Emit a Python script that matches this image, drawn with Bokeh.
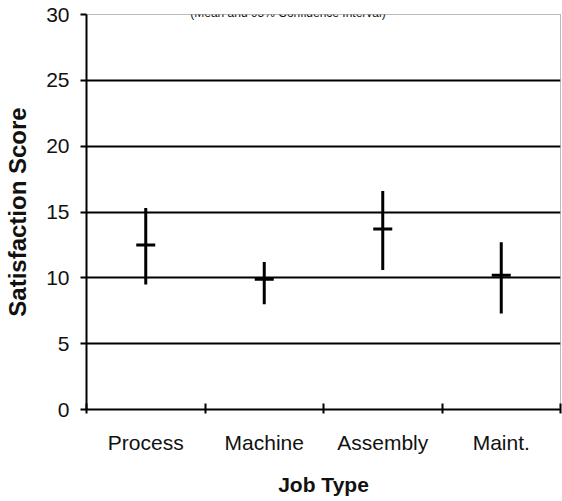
from bokeh.plotting import figure
from bokeh.models import FixedTicker, Range1d, Label, ColumnDataSource
from bokeh.embed import file_html
from bokeh.resources import INLINE

# ---- data ----
categories = ["Process", "Machine", "Assembly", "Maint."]
means = [12.5, 9.9, 13.7, 10.2]
ci_low = [9.5, 8.0, 10.6, 7.3]
ci_high = [15.3, 11.2, 16.6, 12.7]
y_ticks = [0, 5, 10, 15, 20, 25, 30]
title_text = "(Mean and 95% Confidence Interval)"
x_title = "Job Type"
y_title = "Satisfaction Score"

FONT = "Liberation Sans"

xpos = [i + 0.5 for i in range(len(categories))]
src = ColumnDataSource(dict(x=xpos, mean=means, lo=ci_low, hi=ci_high, cat=categories))

p = figure(width=562, height=501, output_backend="svg", toolbar_location=None,
           x_range=Range1d(0, len(categories)), y_range=Range1d(y_ticks[0], y_ticks[-1]),
           min_border_left=86, min_border_right=2, min_border_top=14, min_border_bottom=92)
p.background_fill_color = "white"
p.border_fill_color = "white"
p.outline_line_color = "#777777"
p.outline_line_width = 1
p.outline_line_dash = "1 1"

# grid
p.xgrid.visible = False
p.ygrid.ticker = FixedTicker(ticks=y_ticks[1:-1])
p.ygrid.grid_line_color = "black"
p.ygrid.grid_line_width = 2

# y axis
ya = p.yaxis[0]
ya.ticker = FixedTicker(ticks=y_ticks)
ya.axis_line_color = "black"
ya.axis_line_width = 2
ya.major_tick_out = 6
ya.major_tick_in = 0
ya.major_tick_line_width = 2
ya.minor_tick_line_color = None
ya.major_label_standoff = 11
ya.major_label_text_font = FONT
ya.major_label_text_font_size = "21px"
ya.major_label_text_color = "#111111"
ya.axis_label = y_title
ya.axis_label_text_font = FONT
ya.axis_label_text_font_style = "bold"
ya.axis_label_text_font_size = "24px"
ya.axis_label_text_color = "#111111"
ya.axis_label_standoff = 12

# x axis
xa = p.xaxis[0]
xa.ticker = FixedTicker(ticks=xpos, minor_ticks=list(range(len(categories) + 1)))
xa.major_label_overrides = {x: c for x, c in zip(xpos, categories)}
xa.axis_line_color = "black"
xa.axis_line_width = 2
xa.major_tick_line_color = None
xa.major_tick_out = 0
xa.major_tick_in = 0
xa.minor_tick_line_color = "black"
xa.minor_tick_line_width = 2
xa.minor_tick_out = 4
xa.minor_tick_in = 6
xa.major_label_standoff = 17
xa.major_label_text_font = FONT
xa.major_label_text_font_size = "21px"
xa.major_label_text_color = "#111111"
xa.axis_label = x_title
xa.axis_label_text_font = FONT
xa.axis_label_text_font_style = "bold"
xa.axis_label_text_font_size = "21px"
xa.axis_label_text_color = "#111111"
xa.axis_label_standoff = 16

# CI bars and means
p.segment(x0="x", x1="x", y0="lo", y1="hi", source=src, line_color="black", line_width=3)
p.scatter(x="x", y="mean", source=src, marker="dash", size=19, line_color="black",
          line_width=3, fill_color="black")

# title squeezed into the thin strip above the frame
p.add_layout(Label(x=1.7, y=y_ticks[-1], y_offset=2, text=title_text, text_align="center",
                   text_baseline="alphabetic", text_font=FONT, text_font_size="12px",
                   text_color="#111111"))

open("out.html", "w").write(file_html(p, INLINE))
